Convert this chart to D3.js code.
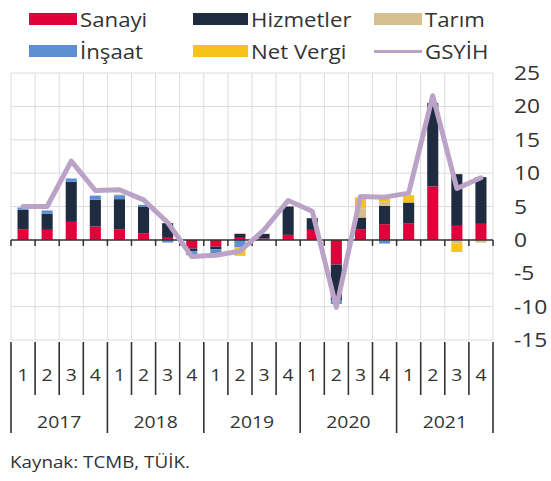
<!DOCTYPE html>
<html><head><meta charset="utf-8">
<script src="https://cdn.jsdelivr.net/npm/d3@7"></script>
<style>body{margin:0;background:#fff}svg{display:block}text{font-family:"Open Sans",sans-serif;fill:#333}</style>
</head><body><svg id="c" width="551" height="481"></svg>
<script>
const quarters = ["1","2","3","4","1","2","3","4","1","2","3","4","1","2","3","4","1","2","3","4"];
const years = ["2017","2018","2019","2020","2021"];
const sanayi    = [1.6, 1.5, 2.7, 2.0, 1.6, 1.0, 0.3, -1.3, -1.0, 0.3, 0.2, 0.75, 1.5, -3.7, 1.6, 2.35, 2.5, 8.0, 2.1, 2.4];
const hizmetler = [2.9, 2.4, 6.0, 4.0, 4.5, 4.0, 2.2, -0.4, -0.4, 0.6, 0.7, 4.25, 1.75, -5.3, 1.75, 2.75, 3.1, 12.5, 7.75, 7.0];
const insaat    = [0.35, 0.5, 0.5, 0.6, 0.6, 0.25, -0.4, -0.6, -0.6, -1.1, 0, 0, 0, -0.6, 0, -0.55, 0, 0, 0, 0];
const tarim     = [0, 0, 0, 0.1, 0.1, 0, 0, 0, 0, 0.1, 0, 0, 0, 0, 1.4, 0.6, 0, 0, -0.5, -0.4];
const netVergi  = [0, 0, 0, 0, 0, 0, 0, 0, 0, -1.3, 0, 0, 0, 0, 1.6, 0.7, 1.1, 0, -1.3, 0];
const gsyih     = [5.0, 5.0, 11.8, 7.4, 7.5, 6.0, 2.6, -2.5, -2.3, -1.7, 1.5, 5.9, 4.3, -10.1, 6.5, 6.4, 7.0, 21.6, 7.7, 9.3];
const yTicks = [25, 20, 15, 10, 5, 0, -5, -10, -15];

const seriesNames = ["Sanayi","Hizmetler","İnşaat","Tarım","Net Vergi"];
const seriesData = [sanayi, hizmetler, insaat, tarim, netVergi];
const colors = {"Sanayi":"#e2003a","Hizmetler":"#1e2b40","İnşaat":"#5b8fd0","Tarım":"#d6c08f","Net Vergi":"#f6c31a","GSYİH":"#bba3c8"};

const svg = d3.select("#c");
const SX = 1.14;
function txt(g, x, y, s, size, anchor){
  return g.append("text").attr("transform",`translate(${x},${y}) scale(${SX},1)`)
    .attr("text-anchor",anchor||"start").style("font-size",size+"px").text(s);
}

const X0 = 11, X1 = 493, Y0 = 73, Y1 = 340;
const idx = d3.range(quarters.length);
const x = d3.scaleBand().domain(idx).range([X0, X1]).paddingInner(0.54).paddingOuter(0.27);
const y = d3.scaleLinear().domain([-15, 25]).range([Y1, Y0]);
const step = x.step();
const bx = i => X0 + i*step;

const grid = svg.append("g").attr("stroke","#dcdcdc").attr("stroke-width",1);
grid.selectAll("line.h").data(yTicks).join("line").attr("class","h")
  .attr("x1",X0).attr("x2",X1).attr("y1",d=>y(d)).attr("y2",d=>y(d));
grid.selectAll("line.v").data(d3.range(quarters.length+1)).join("line").attr("class","v")
  .attr("x1",d=>bx(d)).attr("x2",d=>bx(d)).attr("y1",Y0).attr("y2",Y1);

const table = idx.map(i => { const o = {i}; seriesNames.forEach((n,k)=>o[n]=seriesData[k][i]); return o; });
const stacked = d3.stack().keys(seriesNames).offset(d3.stackOffsetDiverging)(table);
svg.append("g").selectAll("g").data(stacked).join("g").attr("fill",d=>colors[d.key])
  .selectAll("rect").data(d=>d).join("rect")
  .attr("x",d=>x(d.data.i)).attr("width",x.bandwidth())
  .attr("y",d=>y(Math.max(d[0],d[1]))).attr("height",d=>Math.abs(y(d[0])-y(d[1])));

const z = svg.append("g").attr("stroke","#333").attr("stroke-width",1.5);
z.append("line").attr("x1",X0).attr("x2",X1).attr("y1",y(0)).attr("y2",y(0));
z.selectAll("line.t").data(d3.range(quarters.length+1)).join("line").attr("class","t")
  .attr("x1",d=>bx(d)).attr("x2",d=>bx(d)).attr("y1",y(0)).attr("y2",y(0)+6);

svg.append("path").datum(gsyih).attr("fill","none").attr("stroke",colors["GSYİH"])
  .attr("stroke-width",5).attr("stroke-linejoin","round").attr("stroke-linecap","round")
  .attr("d", d3.line().x((d,i)=>x(i)+x.bandwidth()/2).y(d=>y(d)));

const yl = svg.append("g");
yTicks.forEach(t => txt(yl, 514, y(t)+7, String(t), 20));

const ax = svg.append("g").attr("stroke","#333").attr("stroke-width",1.6);
d3.range(quarters.length+1).forEach(i => {
  ax.append("line").attr("x1",bx(i)).attr("x2",bx(i)).attr("y1",Y1+2).attr("y2", i%4===0 ? 433 : 395);
});
const lab = svg.append("g");
quarters.forEach((q,i)=> txt(lab, x(i)+x.bandwidth()/2, 381, q, 17, "middle"));
years.forEach((yr,k)=> txt(lab, bx(k*4)+2*step, 428, yr, 17, "middle"));

txt(svg, 10, 468, "Kaynak: TCMB, TÜİK.", 16.5);

const leg = svg.append("g");
const items = [
  {n:"Sanayi", x:29, y:13, w:48},
  {n:"Hizmetler", x:193, y:13, w:55},
  {n:"Tarım", x:374, y:13, w:48},
  {n:"İnşaat", x:29, y:45, w:48},
  {n:"Net Vergi", x:193, y:45, w:55},
  {n:"GSYİH", x:374, y:45, w:48, line:true}
];
items.forEach(it => {
  if (it.line) leg.append("rect").attr("x",it.x).attr("y",it.y+5).attr("width",it.w).attr("height",3).attr("fill",colors[it.n]);
  else leg.append("rect").attr("x",it.x).attr("y",it.y).attr("width",it.w).attr("height",12).attr("fill",colors[it.n]);
  txt(leg, it.x+it.w+3, it.y+14, it.n, 19.5);
});
</script></body></html>
